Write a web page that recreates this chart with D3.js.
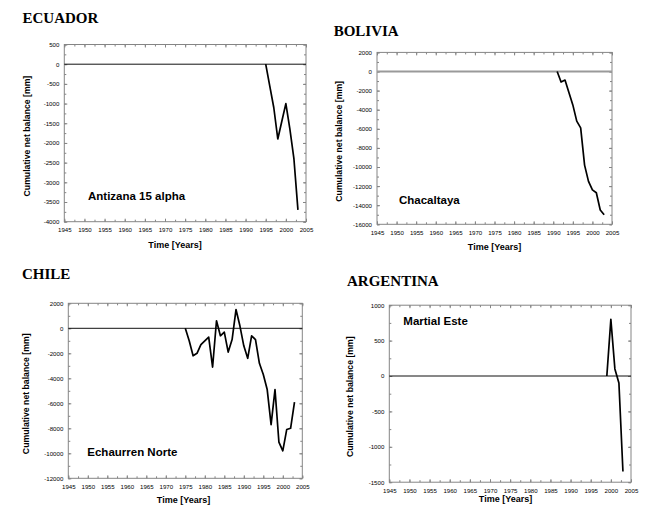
<!DOCTYPE html>
<html>
<head>
<meta charset="utf-8">
<script src="https://cdn.jsdelivr.net/npm/d3@7"></script>
<style>
  body { margin: 0; background: #fff; }
  svg { display: block; }
</style>
</head>
<body>
<svg id="chart" width="654" height="505"></svg>
<script>
// Shared time axis labels
const yearTicks = [1945, 1950, 1955, 1960, 1965, 1970, 1975, 1980, 1985, 1990, 1995, 2000, 2005];

// Ecuador – Antizana 15 alpha
const ecuadorYears   = [1995, 1996, 1997, 1998, 1999, 2000, 2001, 2002, 2003];
const ecuadorBalance = [0, -550, -1100, -1900, -1450, -1000, -1650, -2400, -3700];
const ecuadorTicks   = [500, 0, -500, -1000, -1500, -2000, -2500, -3000, -3500, -4000];

// Bolivia – Chacaltaya
const boliviaYears   = [1991, 1992, 1993, 1994, 1995, 1996, 1997, 1998, 1999, 2000, 2001, 2002, 2003];
const boliviaBalance = [0, -1100, -900, -2200, -3500, -5200, -5900, -9800, -11500, -12400, -12700, -14500, -15000];
const boliviaTicks   = [2000, 0, -2000, -4000, -6000, -8000, -10000, -12000, -14000, -16000];

// Chile – Echaurren Norte
const chileYears   = [1975, 1976, 1977, 1978, 1979, 1980, 1981, 1982, 1983, 1984, 1985, 1986, 1987, 1988, 1989,
                      1990, 1991, 1992, 1993, 1994, 1995, 1996, 1997, 1998, 1999, 2000, 2001, 2002, 2003];
const chileBalance = [0, -1000, -2200, -2000, -1300, -1000, -700, -3100, 600, -600, -300, -1900, -900, 1500, 200,
                      -1400, -2400, -600, -900, -2800, -3700, -4900, -7700, -4900, -9100, -9800, -8100, -8000, -5900];
const chileTicks   = [2000, 0, -2000, -4000, -6000, -8000, -10000, -12000];

// Argentina – Martial Este
const argentinaYears   = [1999, 2000, 2001, 2002, 2003];
const argentinaBalance = [0, 800, 100, -100, -1350];
const argentinaTicks   = [1000, 500, 0, -500, -1000, -1500];

// Panel layout
const panels = [
  { title: "ECUADOR", station: "Antizana 15 alpha",
    years: ecuadorYears, values: ecuadorBalance, yTicks: ecuadorTicks, minorStep: 250,
    frame: { x0: 64.3, x1: 306, y0: 44.5, y1: 221.7 },
    titlePos: [22.5, 22.7], stationPos: [88, 200], yTitleX: 26.7, xTitlePos: [175, 247.5],
    zeroColor: "#111", zeroWidth: 1 },
  { title: "BOLIVIA", station: "Chacaltaya",
    years: boliviaYears, values: boliviaBalance, yTicks: boliviaTicks, minorStep: 1000,
    frame: { x0: 377, x1: 612, y0: 52.4, y1: 224.3 },
    titlePos: [333.7, 36], stationPos: [399, 203.5], yTitleX: 338.7, xTitlePos: [494.5, 250],
    zeroColor: "#9a9a9a", zeroWidth: 2 },
  { title: "CHILE", station: "Echaurren Norte",
    years: chileYears, values: chileBalance, yTicks: chileTicks, minorStep: 1000,
    frame: { x0: 68.3, x1: 302.3, y0: 303.3, y1: 478.3 },
    titlePos: [22, 279.3], stationPos: [87.3, 456], yTitleX: 26, xTitlePos: [183.5, 502.5],
    zeroColor: "#111", zeroWidth: 1 },
  { title: "ARGENTINA", station: "Martial Este",
    years: argentinaYears, values: argentinaBalance, yTicks: argentinaTicks, minorStep: 250,
    frame: { x0: 389.3, x1: 631, y0: 305.2, y1: 482.2 },
    titlePos: [347, 286], stationPos: [403.3, 325], yTitleX: 350.3, xTitlePos: [505.5, 502],
    zeroColor: "#111", zeroWidth: 1 }
];

const svg = d3.select("#chart");
const sansFont = "'Liberation Sans', Arial, Helvetica, sans-serif";
const serifFont = "'Liberation Serif', 'Times New Roman', serif";
const frameColor = "#858585";

function styleAxis(sel) {
  sel.select(".domain").remove();
  sel.selectAll(".tick line").attr("stroke", frameColor).attr("stroke-width", 1);
  sel.selectAll(".tick text")
    .attr("fill", "#000")
    .style("font-family", sansFont)
    .style("font-size", "6.1px");
}

panels.forEach(p => {
  const f = p.frame;
  const g = svg.append("g");

  const x = d3.scaleLinear().domain([1945, 2005]).range([f.x0, f.x1]);
  const y = d3.scaleLinear().domain(d3.extent(p.yTicks)).range([f.y1, f.y0]);

  const [yMin, yMax] = d3.extent(p.yTicks);
  const minorYears = d3.range(1945, 2005 + 0.01, 2.5);
  const minorY = d3.range(yMin, yMax + 0.01, p.minorStep);

  // Minor ticks on all four sides, pointing inward
  g.append("g").attr("transform", `translate(0,${f.y1})`)
    .call(d3.axisBottom(x).tickValues(minorYears).tickSize(-2).tickFormat("")).call(styleAxis);
  g.append("g").attr("transform", `translate(0,${f.y0})`)
    .call(d3.axisTop(x).tickValues(minorYears).tickSize(-2).tickFormat("")).call(styleAxis);
  g.append("g").attr("transform", `translate(${f.x0},0)`)
    .call(d3.axisLeft(y).tickValues(minorY).tickSize(-2).tickFormat("")).call(styleAxis);
  g.append("g").attr("transform", `translate(${f.x1},0)`)
    .call(d3.axisRight(y).tickValues(minorY).tickSize(-2).tickFormat("")).call(styleAxis);

  // Major ticks with labels
  g.append("g").attr("transform", `translate(0,${f.y1})`)
    .call(d3.axisBottom(x).tickValues(yearTicks).tickSize(-3).tickPadding(6.3).tickFormat(d => String(d)))
    .call(styleAxis);
  g.append("g").attr("transform", `translate(${f.x0},0)`)
    .call(d3.axisLeft(y).tickValues(p.yTicks).tickSize(-3).tickPadding(5).tickFormat(d => String(d)))
    .call(styleAxis);
  g.append("g").attr("transform", `translate(0,${f.y0})`)
    .call(d3.axisTop(x).tickValues(yearTicks).tickSize(-3).tickFormat("")).call(styleAxis);
  g.append("g").attr("transform", `translate(${f.x1},0)`)
    .call(d3.axisRight(y).tickValues(p.yTicks).tickSize(-3).tickFormat("")).call(styleAxis);

  // Plot frame
  g.append("rect")
    .attr("x", f.x0).attr("y", f.y0)
    .attr("width", f.x1 - f.x0).attr("height", f.y1 - f.y0)
    .attr("fill", "none").attr("stroke", frameColor).attr("stroke-width", 1);

  // Zero reference line
  g.append("line")
    .attr("x1", f.x0).attr("x2", f.x1)
    .attr("y1", y(0)).attr("y2", y(0))
    .attr("stroke", p.zeroColor).attr("stroke-width", p.zeroWidth);

  // Cumulative balance series
  const line = d3.line().x(d => x(d[0])).y(d => y(d[1]));
  g.append("path")
    .datum(d3.zip(p.years, p.values))
    .attr("d", line)
    .attr("fill", "none")
    .attr("stroke", "#000")
    .attr("stroke-width", 1.7)
    .attr("stroke-linejoin", "round");

  // Country heading
  g.append("text")
    .attr("x", p.titlePos[0]).attr("y", p.titlePos[1])
    .style("font-family", serifFont).style("font-weight", "bold").style("font-size", "15px")
    .attr("fill", "#000")
    .text(p.title);

  // Glacier name
  g.append("text")
    .attr("x", p.stationPos[0]).attr("y", p.stationPos[1])
    .style("font-family", sansFont).style("font-weight", "bold").style("font-size", "11.5px")
    .attr("fill", "#000")
    .text(p.station);

  // Axis titles
  g.append("text")
    .attr("x", p.xTitlePos[0]).attr("y", p.xTitlePos[1])
    .attr("text-anchor", "middle")
    .style("font-family", sansFont).style("font-weight", "bold").style("font-size", "9px")
    .attr("fill", "#000")
    .text("Time [Years]");

  g.append("text")
    .attr("transform", `translate(${p.yTitleX},${(f.y0 + f.y1) / 2 + 3}) rotate(-90)`)
    .attr("text-anchor", "middle")
    .attr("dy", "0.35em")
    .style("font-family", sansFont).style("font-weight", "bold").style("font-size", "8.7px")
    .attr("fill", "#000")
    .text("Cumulative net balance [mm]");
});
</script>
</body>
</html>
